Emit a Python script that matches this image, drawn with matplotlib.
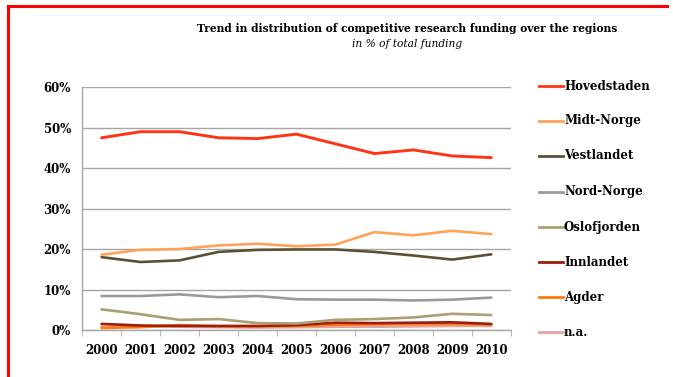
import numpy as np
import matplotlib
matplotlib.use("Agg")
import matplotlib.pyplot as plt
from matplotlib.lines import Line2D

years = ["2000", "2001", "2002", "2003", "2004", "2005", "2006", "2007", "2008", "2009", "2010"]

hovedstaden = [47.5, 49.0, 49.0, 47.5, 47.3, 48.4, 46.0, 43.6, 44.5, 43.0, 42.6]
midt_norge = [18.6, 19.8, 20.0, 20.9, 21.3, 20.7, 21.1, 24.2, 23.4, 24.5, 23.7]
vestlandet = [18.0, 16.8, 17.2, 19.3, 19.8, 19.9, 19.9, 19.3, 18.4, 17.4, 18.7]
nord_norge = [8.4, 8.4, 8.8, 8.1, 8.4, 7.6, 7.5, 7.5, 7.3, 7.5, 8.0]
oslofjorden = [5.1, 3.9, 2.5, 2.7, 1.7, 1.6, 2.5, 2.7, 3.1, 4.0, 3.7]
innlandet = [1.5, 1.1, 1.0, 1.0, 1.0, 1.2, 1.8, 1.7, 1.8, 1.9, 1.5]
agder = [0.5, 0.7, 1.2, 0.9, 0.9, 1.0, 1.3, 1.4, 1.5, 1.5, 1.4]
na = [0.8, 0.9, 0.8, 0.7, 0.6, 0.7, 0.8, 0.8, 0.9, 1.0, 1.0]

names = ["Hovedstaden", "Midt-Norge", "Vestlandet", "Nord-Norge",
         "Oslofjorden", "Innlandet", "Agder", "n.a."]
series = [hovedstaden, midt_norge, vestlandet, nord_norge,
          oslofjorden, innlandet, agder, na]
colors = ["#ff3414", "#ffa457", "#5b5132", "#9a9a9a",
          "#aa9e72", "#9e1e0e", "#ff7a0a", "#e2a4a2"]
widths = [2.1, 1.9, 1.9, 1.9, 1.9, 1.9, 1.9, 1.9]

serif = ["DejaVu Serif"]

fig = plt.figure(figsize=(6.73, 3.77), dpi=100)
ax = fig.add_axes([0.122, 0.1247, 0.637, 0.644])

x = np.arange(len(years))
for vals, c, w in reversed(list(zip(series, colors, widths))):
    ax.plot(x, vals, color=c, lw=w, solid_capstyle="round", zorder=3)

ax.set_xlim(-0.5, len(years) - 0.5)
ax.set_ylim(0, 60)
ax.set_yticks(np.arange(0, 61, 10))
ax.set_yticklabels([f"{v}%" for v in range(0, 61, 10)],
                   fontfamily=serif, fontweight="bold", fontsize=8.5)
ax.yaxis.grid(True, color="#a6a6a6", lw=1.0)
ax.set_axisbelow(True)
ax.tick_params(axis="y", length=0, pad=8)

ax.set_xticks(x)
ax.set_xticklabels(years, fontfamily=serif, fontweight="bold", fontsize=8.5)
ax.set_xticks(np.arange(-0.5, len(years)), minor=True)
ax.tick_params(axis="x", which="major", length=0, pad=10)
ax.tick_params(axis="x", which="minor", length=4, color="#a6a6a6", direction="out")

for s in ["top", "right"]:
    ax.spines[s].set_visible(False)
for s in ["left", "bottom"]:
    ax.spines[s].set_color("#a6a6a6")
    ax.spines[s].set_linewidth(1.0)

# legend drawn at the right
W, H = 673, 377
leg_y = [86, 121, 156, 192, 227, 262, 297, 332]
for name, c, yy in zip(names, colors, leg_y):
    fy = 1 - yy / H
    fig.add_artist(Line2D([539 / W, 563 / W], [fy, fy], color=c, lw=2.0,
                          transform=fig.transFigure))
    fig.text(564 / W, fy, name, fontfamily=serif, fontweight="bold",
             fontsize=8.5, va="center", ha="left")

fig.text(407 / W, 1 - 29 / H, "Trend in distribution of competitive research funding over the regions",
         fontfamily=serif, fontweight="bold", fontsize=7.7, ha="center", va="center")
fig.text(407 / W, 1 - 44 / H, "in % of total funding",
         fontfamily=serif, fontstyle="italic", fontsize=7.7, ha="center", va="center")

# frame lines
fig.add_artist(Line2D([8 / W, 667 / W], [1 - 6 / H, 1 - 6 / H], color="#ff0000", lw=2.2,
                      transform=fig.transFigure))
fig.add_artist(Line2D([8 / W, 8 / W], [0, 1 - 6 / H], color="#ff0000", lw=2.2,
                      transform=fig.transFigure))
fig.add_artist(Line2D([35 / W, 667 / W], [1 - 15 / H, 1 - 15 / H], color="#f3f3f3", lw=0.8,
                      transform=fig.transFigure))

fig.savefig("out.png", dpi=100)
